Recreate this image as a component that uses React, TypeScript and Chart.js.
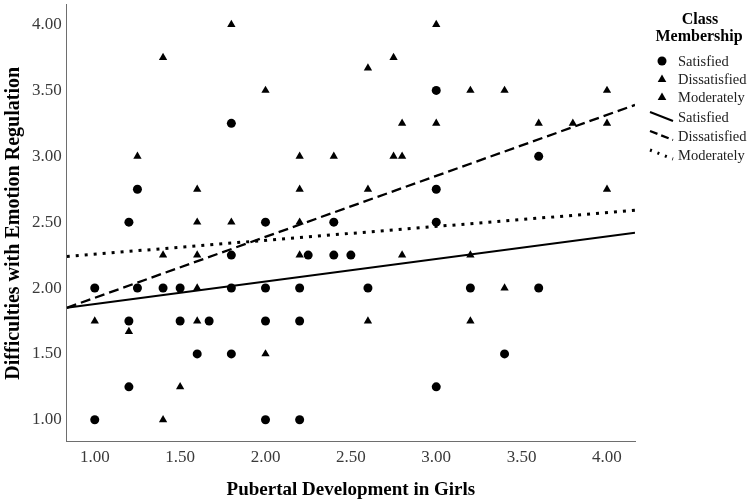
import React, { useEffect, useRef } from "react";
import { Chart, registerables } from "chart.js";

Chart.register(...registerables);

// ---- data ----
const xTicks = [1.0, 1.5, 2.0, 2.5, 3.0, 3.5, 4.0];
const yTicks = [1.0, 1.5, 2.0, 2.5, 3.0, 3.5, 4.0];

const satisfiedX = [1.8, 1.25, 1.2, 1.8, 1.0, 1.25, 1.4, 1.5, 1.8, 1.2, 1.5, 1.67, 1.6, 1.8, 1.2, 1.0,
  3.0, 3.0, 2.0, 2.4, 3.0, 2.25, 2.4, 2.5, 2.0, 2.2, 2.6, 2.0, 2.2, 3.0, 2.0, 2.2,
  3.6, 3.2, 3.6, 3.4];
const satisfiedY = [3.25, 2.75, 2.5, 2.25, 2.0, 2.0, 2.0, 2.0, 2.0, 1.75, 1.75, 1.75, 1.5, 1.5, 1.25, 1.0,
  3.5, 2.75, 2.5, 2.5, 2.5, 2.25, 2.25, 2.25, 2.0, 2.0, 2.0, 1.75, 1.75, 1.25, 1.0, 1.0,
  3.0, 2.0, 2.0, 1.5];

const dissatisfiedX = [1.0, 1.2, 1.4, 1.5, 1.6, 1.6, 2.0, 2.2, 2.6, 2.2, 2.4, 2.6, 2.75, 2.8, 3.0, 3.2, 3.4, 3.6, 3.8, 4.0, 4.0];
const dissatisfiedY = [1.75, 1.67, 1.0, 1.25, 1.75, 2.0, 1.5, 2.25, 1.75, 3.0, 3.0, 3.67, 3.75, 3.25, 4.0, 3.5, 3.5, 3.25, 3.25, 3.5, 3.25];

const moderatelyX = [1.8, 1.4, 1.25, 1.6, 1.6, 1.8, 1.4, 1.6, 2.0, 2.75, 2.8, 2.2, 2.6, 2.2, 2.8, 3.0, 4.0, 3.2, 3.4, 3.2];
const moderatelyY = [4.0, 3.75, 3.0, 2.75, 2.5, 2.5, 2.25, 2.25, 3.5, 3.0, 3.0, 2.75, 2.75, 2.5, 2.25, 3.25, 2.75, 2.25, 2.0, 1.75];

const fitX = [0.836, 4.164];
const fitSatisfied = [1.85, 2.42];
const fitDissatisfied = [1.85, 3.39];
const fitModerately = [2.24, 2.59];

const legendTitle = ["Class", "Membership"];
const xTitle = "Pubertal Development in Girls";
const yTitle = "Difficulties with Emotion Regulation";

const SERIF = "'Liberation Serif', 'Times New Roman', serif";

const toPoints = (xs: number[], ys: number[]) => xs.map((x, i) => ({ x, y: ys[i] }));

const legendPlugin = {
  id: "spssLegend",
  afterDraw(chart: any) {
    const ctx: CanvasRenderingContext2D = chart.ctx;
    const left = chart.chartArea.right;
    ctx.save();
    ctx.fillStyle = "#000";
    ctx.textAlign = "center";
    ctx.textBaseline = "middle";
    ctx.font = `bold 16px ${SERIF}`;
    ctx.fillText(legendTitle[0], left + 65, 20);
    ctx.fillText(legendTitle[1], left + 64, 37);

    const items = chart.data.datasets;
    const rowY = [61, 79, 97, 117, 136, 155];
    ctx.font = `14.5px ${SERIF}`;
    ctx.textAlign = "left";
    items.forEach((ds: any, i: number) => {
      const y = rowY[i];
      const mx = left + 27;
      ctx.fillStyle = "#000";
      ctx.strokeStyle = "#000";
      if (ds.type === "line") {
        ctx.lineWidth = ds.borderWidth;
        ctx.setLineDash(ds.legendDash || []);
        ctx.beginPath();
        ctx.moveTo(left + 15, y - 5);
        ctx.lineTo(left + 38, y + 4);
        ctx.stroke();
        ctx.setLineDash([]);
      } else if (ds.pointStyle === "circle") {
        ctx.beginPath();
        ctx.arc(mx, y, 4.5, 0, Math.PI * 2);
        ctx.fill();
      } else {
        ctx.beginPath();
        ctx.moveTo(mx, y - 4.5);
        ctx.lineTo(mx + 4.3, y + 3);
        ctx.lineTo(mx - 4.3, y + 3);
        ctx.closePath();
        ctx.fill();
      }
      ctx.fillStyle = "#222";
      ctx.fillText(ds.label, left + 43, y + 1);
    });
    ctx.restore();
  },
};

export default function App() {
  const canvasRef = useRef<HTMLCanvasElement | null>(null);

  useEffect(() => {
    document.body.style.margin = "0";
    const canvas = canvasRef.current;
    if (!canvas) return;
    const scatterBase = {
      type: "scatter" as const,
      backgroundColor: "#000",
      borderColor: "#000",
      borderWidth: 0,
      pointRadius: 4.5,
      pointHoverRadius: 4.5,
    };
    const chart = new Chart(canvas, {
      type: "scatter",
      data: {
        datasets: [
          { ...scatterBase, label: "Satisfied", data: toPoints(satisfiedX, satisfiedY), pointStyle: "circle" },
          { ...scatterBase, label: "Dissatisfied", data: toPoints(dissatisfiedX, dissatisfiedY), pointStyle: "triangle", pointRadius: 4.8 },
          { ...scatterBase, label: "Moderately", data: toPoints(moderatelyX, moderatelyY), pointStyle: "triangle", pointRadius: 4.8 },
          {
            type: "line", label: "Satisfied", data: toPoints(fitX, fitSatisfied),
            borderColor: "#000", borderWidth: 2, pointRadius: 0, showLine: true, fill: false,
          } as any,
          {
            type: "line", label: "Dissatisfied", data: toPoints(fitX, fitDissatisfied),
            borderColor: "#000", borderWidth: 2.3, borderDash: [10, 5], legendDash: [8, 4], pointRadius: 0, showLine: true, fill: false,
          } as any,
          {
            type: "line", label: "Moderately", data: toPoints(fitX, fitModerately),
            borderColor: "#000", borderWidth: 3, borderDash: [3, 6], legendDash: [2, 6], pointRadius: 0, showLine: true, fill: false,
          } as any,
        ],
      },
      options: {
        animation: false,
        responsive: true,
        maintainAspectRatio: false,
        layout: { padding: { top: 4, right: 117, left: 0, bottom: 0 } },
        plugins: { legend: { display: false }, tooltip: { enabled: false } },
        scales: {
          x: {
            type: "linear",
            min: 0.836,
            max: 4.164,
            grid: { display: false, drawTicks: false },
            border: { display: true, color: "#6e6e6e", width: 1 },
            afterBuildTicks: (axis: any) => { axis.ticks = xTicks.map((v) => ({ value: v })); },
            ticks: {
              padding: 6,
              color: "#3a3a3a",
              font: { family: SERIF, size: 17 },
              callback: (v: any) => Number(v).toFixed(2),
            },
            title: {
              display: true,
              text: xTitle,
              color: "#000",
              font: { family: SERIF, size: 19, weight: "bold" },
              padding: { top: 4, bottom: 0 },
            },
          },
          y: {
            type: "linear",
            min: 0.833,
            max: 4.15,
            grid: { display: false, drawTicks: true, tickLength: 5 },
            border: { display: true, color: "#6e6e6e", width: 1 },
            afterBuildTicks: (axis: any) => { axis.ticks = yTicks.map((v) => ({ value: v })); },
            ticks: {
              padding: 0,
              color: "#3a3a3a",
              font: { family: SERIF, size: 17, lineHeight: 0.4 },
              callback: (v: any) => Number(v).toFixed(2),
            },
            title: {
              display: true,
              text: yTitle,
              color: "#000",
              font: { family: SERIF, size: 20, weight: "bold" },
              padding: { top: 2, bottom: 6 },
            },
          },
        },
      },
      plugins: [legendPlugin],
    });
    return () => chart.destroy();
  }, []);

  return (
    <div style={{ position: "relative", width: 752, height: 501 }}>
      <canvas ref={canvasRef} />
    </div>
  );
}
